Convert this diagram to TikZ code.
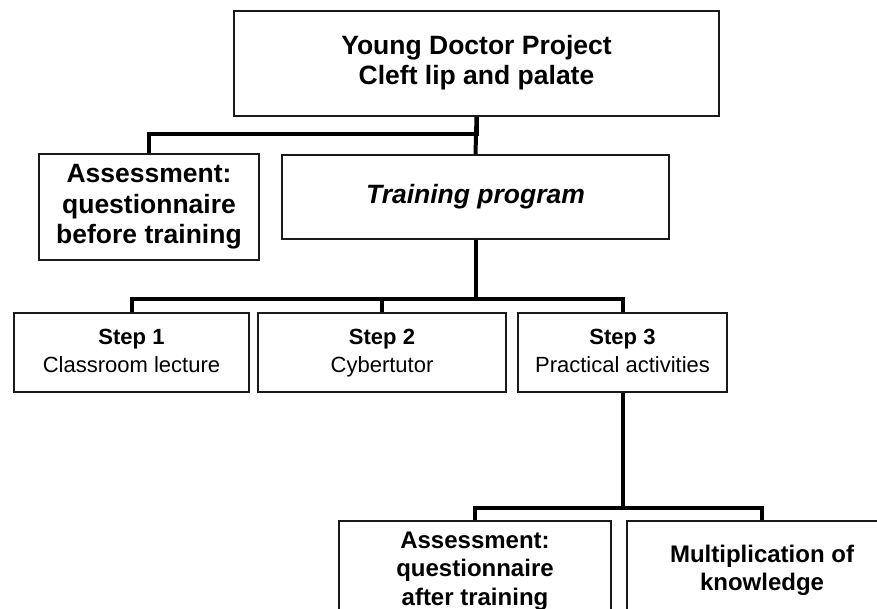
\documentclass[tikz,border=0pt]{standalone}
\usepackage{fontspec}
\setmainfont{Liberation Sans}
\usepackage{tikz}
\usetikzlibrary{arrows.meta, positioning, calc}
\definecolor{boxline}{HTML}{1A1A1A}
\definecolor{linkblack}{HTML}{000000}

\begin{document}
\begin{tikzpicture}[x=1pt, y=-1pt,
    box/.style={draw=boxline, line width=1.6pt, align=center, inner sep=0pt},
    big/.style={font=\bfseries\fontsize{26.5}{30.5}\selectfont},
    small/.style={font=\fontsize{22}{28}\selectfont},
    low/.style={font=\bfseries\fontsize{24}{28.5}\selectfont},
    link/.style={linkblack, line width=4pt, line join=miter}]
          \clip (0,0) rectangle (877,609);
          \fill[white] (0,0) rectangle (877,609);
          % top and second row
          \node[box, big, minimum width=485, minimum height=105] (project) at (476.5,63.5) {\strut Young Doctor Project\\Cleft lip and palate\strut};
          \node[box, big, minimum width=220, minimum height=106] (before) at (149,207) {\strut Assessment:\\questionnaire\\before training\strut};
          \node[box, big, minimum width=387, minimum height=84] (training) at (475.5,197) {\itshape Training program};
          % steps
          \node[box, small, minimum width=235, minimum height=79] (step1) at (131.5,352.5) {\strut\textbf{Step 1}\\Classroom lecture\strut};
          \node[box, small, minimum width=248, minimum height=79] (step2) at (382,352.5) {\strut\textbf{Step 2}\\Cybertutor\strut};
          \node[box, small, minimum width=209, minimum height=79] (step3) at (622.5,352.5) {\strut\textbf{Step 3}\\Practical activities\strut};
          % bottom row
          \node[box, low, minimum width=272, minimum height=100] (after) at (475,571) {\strut Assessment:\\questionnaire\\after training\strut};
          \node[box, low, minimum width=270, minimum height=100] (multi) at (762,571) {\strut Multiplication of\\knowledge\strut};
          % links
          \draw[link] (project.south) -- (training.north);
          \draw[link] (project.south) -- ++(0,17) -| (before.north);
          \draw[link] (training.south) -- ++(0,59) -| (step1.north);
          \draw[link] (training.south) -- ++(0,59) -| (step2.north);
          \draw[link] (training.south) -- ++(0,59) -| (step3.north);
          \draw[link] (step3.south) -- ++(0,115) -| (after.north);
          \draw[link] (step3.south) -- ++(0,115) -| (multi.north);
        \end{tikzpicture}
\end{document}
